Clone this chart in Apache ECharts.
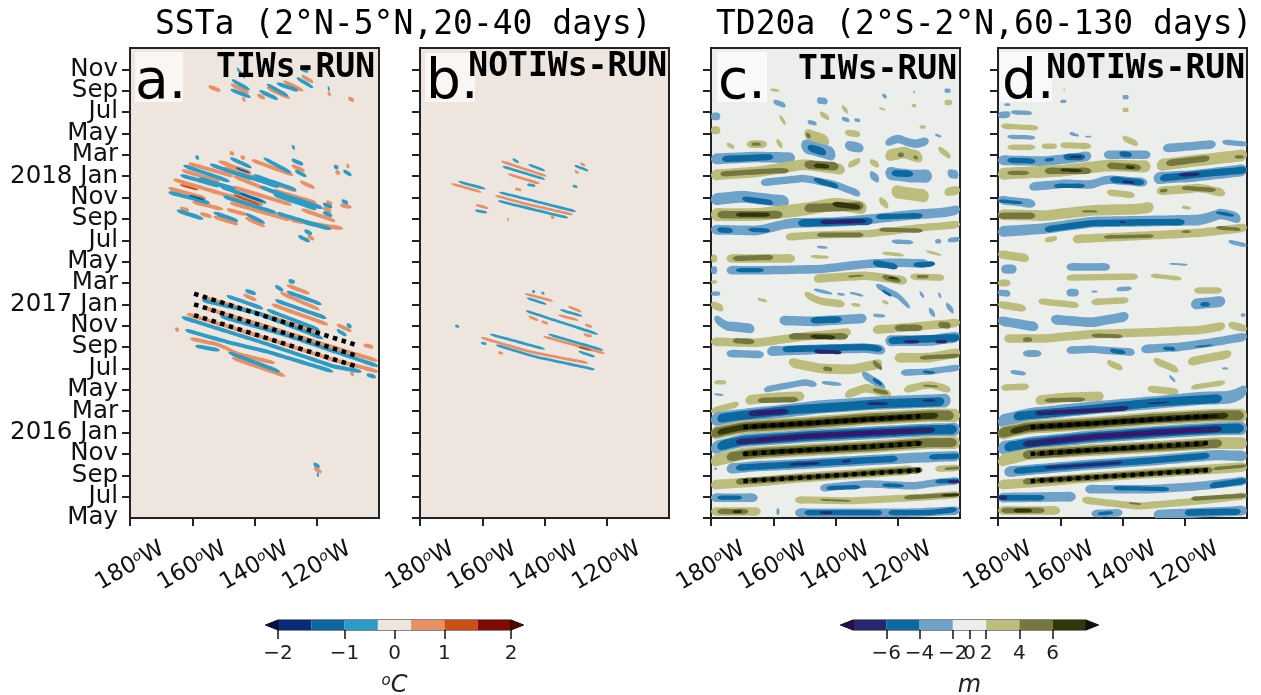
<!DOCTYPE html>
<html><head><meta charset="utf-8">
<style>html,body{margin:0;padding:0;background:#fff}#c{width:1261px;height:695px}</style>
<script src="https://cdn.jsdelivr.net/npm/echarts@6/dist/echarts.min.js"></script></head>
<body><div id="c"></div>
<script>
// months since May 2015 on the y axis; longitude (negative = west) on the x axis
const monthTicks=[0,2,4,6,8,10,12,14,16,18,20,22,24,26,28,30,32,34,36,38,40,42];
const monthLabels=['May','Jul','Sep','Nov','2016 Jan','Mar','May','Jul','Sep','Nov','2017 Jan','Mar','May','Jul','Sep','Nov','2018 Jan','Mar','May','Jul','Sep','Nov'];
const lonTicks=[-180,-160,-140,-120];
const lonLabels=['180','160','140','120'];

// Panel a: SSTa crests (+) and troughs (-)
const aOrange=[
[[-154.8,40.4],[-150.9,40]],[[-147.7,40.6],[-141.7,39.8]],[[-144,39.3],[-142.9,39.1]],[[-139.1,39.6],[-136.6,39.3]],[[-136.1,40.3],[-128.6,39.3]],[[-130.8,40.9],[-124.3,40]],[[-124.9,41.4],[-121.1,40.8]],[[-116.5,39.8],[-115.5,39.6]],[[-109.9,39.3],[-108,39.1]],
[[-161.3,33.2],[-146.8,32]],[[-146.8,32],[-132.9,30.4]],[[-163.4,32.55],[-151.1,31.5]],[[-166.1,31.7],[-151.1,30.4],[-137.2,29.3]],[[-167.7,30.9],[-155.4,29.9]],[[-147.9,29.5],[-128.6,27.9]],[[-128.6,27.9],[-111.5,27.1]],[[-153.2,28.2],[-145.2,27.5]],[[-143,28.1],[-136.6,27.3]],[[-163.9,29],[-161,28.8]],[[-157.5,28.5],[-153.7,28.2]],[[-149,28.9],[-142.5,28.4]],[[-140.9,33.5],[-127.5,32.1]],[[-151.6,33.4],[-140.9,32.3]],[[-137.2,31.7],[-126.5,30.6]],[[-134,30.7],[-120,29.5]],[[-128.1,33],[-123.8,32.5]],[[-125.4,31.5],[-120.6,30.9]],[[-123,26.4],[-120.8,26.1]],[[-118,29],[-115.2,28.7]],[[-117,29.6],[-115,29.4]],[[-112.5,29.3],[-108.8,29.1]],[[-110.5,33],[-109.5,32.9]],[[-114,32.4],[-112.5,32.3]],[[-144.5,33.8],[-143,33.7]],[[-148,34.2],[-146.5,34.1]],
[[-147,31],[-128,29.3]],[[-150,32.8],[-135,31.4]],[[-160,29.6],[-150,28.9]],[[-125,28.9],[-114,27.8]],
[[-156.9,20.7],[-135.6,18.9],[-118.9,17.3]],[[-156.5,19.7],[-134.7,17.8],[-100.4,14.7]],[[-161.8,19.1],[-138.2,17],[-114.7,14.8],[-100.2,13.7]],[[-160.7,16.8],[-151.1,16.2],[-145.8,15.4],[-133.4,14.5]],[[-147.3,15],[-130.1,13.3]],[[-143.6,20.9],[-139.3,20.4]],[[-134.5,20],[-116.3,18.1]],[[-131.8,21.1],[-119,19.5]],[[-129.7,21.8],[-122.2,21]],[[-113.6,18.1],[-108.8,17.5]],[[-105,16.2],[-101.8,16]],[[-109.3,13.6],[-108,13.4]],[[-120.9,4.65],[-118.4,4.3]],[[-165.5,17.7],[-164.3,17.6]]
];
const aBlue=[
[[-147.3,41],[-141.5,40.1]],[[-147.7,40.1],[-141.2,39.4]],[[-138.5,40],[-132.4,39.2]],[[-136.1,40.6],[-129.1,39.5]],[[-132.9,40.7],[-125.9,40]],[[-126.5,41.2],[-121.1,40.3]],[[-125.4,42.1],[-122.7,41.8]],[[-145.7,42.1],[-143,41.2]],[[-116.5,40.3],[-115.8,40.1]],
[[-162.9,33],[-147.9,31.5]],[[-147.9,33.7],[-140.9,32.8]],[[-163.9,32.1],[-151.1,31.05]],[[-151.1,31.05],[-136.1,29.5]],[[-167.7,30.5],[-154.3,29.5]],[[-150,30.1],[-132.9,28.55]],[[-132.9,28.55],[-116.3,27.1]],[[-165,28.8],[-156.4,28]],[[-153.2,28.6],[-145.2,27.8]],[[-143,28.5],[-136.6,27.6]],[[-140.4,32.1],[-126.5,30.7]],[[-154.3,33.1],[-140.4,31.7]],[[-137.2,33.7],[-128.1,32.3]],[[-138.2,31],[-123.3,29.5]],[[-134,30.3],[-120,28.9]],[[-124.3,27.7],[-115.2,27.05]],[[-128.1,33.55],[-124.3,33.1]],[[-127,32.5],[-123.3,32]],[[-118,29.4],[-115,29.1]],[[-118,28.6],[-115,28.3]],[[-112,29.7],[-109.9,29.5]],[[-111.5,32.5],[-108.8,32.1]],[[-126,26.4],[-122.2,25.9]],[[-124,26.9],[-121.5,26.6]],[[-114.5,32.9],[-113,32.8]],[[-128,34.8],[-127,34.6]],[[-159,33.8],[-157.8,33.7]],
[[-158,31.8],[-146,30.8]],[[-146,32.3],[-132,31]],[[-128,30],[-118,29]],
[[-157,20.4],[-139.3,19.2],[-117.9,16.8]],[[-151.1,18.9],[-129.7,17.1],[-100.2,14.2]],[[-163.4,18.8],[-138.2,16.5],[-114.7,14.2],[-105.6,13.7]],[[-162.3,17.6],[-149,16.5],[-136.2,15.6],[-114.7,13.7]],[[-159.1,16.1],[-151.1,15.7]],[[-148.4,15.5],[-131.8,13.7]],[[-149,20.8],[-137.2,19.6]],[[-143,21.3],[-139.5,21]],[[-133.4,20.4],[-116.8,18.7]],[[-136.1,19.5],[-119,17.6]],[[-129.7,21.2],[-118.4,20]],[[-133.4,21.7],[-130.7,21.3]],[[-129.1,22.2],[-127,22.1]],[[-113.6,17.6],[-110.4,17.1]],[[-110.4,18.1],[-108.8,17.9]],[[-104,13.4],[-101,13.2]],[[-121.1,5.05],[-119,4.8]],[[-120,4.1],[-119.3,4]]
];
const aDeepOrange=[[-146.8,30.3],[-138.2,29.3]];
const aDeepOrange2=[[-164,31.2],[-158,30.7]];
const aDeepBlue=[[-144.7,30.4],[-137.2,29.6]];
const aDeepBlue2=[[-146,32.8],[-141.5,32.3]];
const aDeepBlue3=[[-161,30.2],[-156,29.8]];

// Panel b
const bOrange=[
[[-170,31.3],[-160.2,30.5]],[[-154,33.4],[-139.3,32]],[[-151.8,32.2],[-141.5,31.3]],[[-128.5,33.2],[-126.9,33]],[[-130.3,32.5],[-129,32.3]],[[-155.9,30.2],[-147.3,29.5],[-130.8,28.4]],[[-162.1,29.3],[-158,29]],[[-149.5,30.8],[-147.4,30.7]],[[-146.3,21],[-137.2,20.3]],[[-135.6,19],[-129.1,18.5]],[[-132.4,19.8],[-128.1,19.3]],[[-145.2,18.9],[-142,18.5]],[[-141,18.4],[-138.8,18.2]],[[-127,18.1],[-124.7,17.9]],[[-127.5,17.2],[-124.7,17]],[[-140.4,17],[-120.6,15.4]],[[-160.4,16.9],[-145.2,15.6],[-125.9,14.5]],[[-154.9,15.5],[-153.3,15.4]],[[-152,28],[-151.4,27.9]],[[-138,28.2],[-136.8,28.1]]
];
const bBlue=[
[[-167.7,31.5],[-158.9,30.8]],[[-153.5,32.9],[-139.8,31.7]],[[-145.2,33.1],[-139.8,32.5]],[[-150.3,33.6],[-148.2,33.3]],[[-130.4,33],[-125.9,32.5]],[[-154.6,30.5],[-146.3,29.9],[-129.9,28.7]],[[-155,29.7],[-145.2,29],[-132.4,28.1]],[[-162.3,28.8],[-158.4,28.6]],[[-145.6,31.2],[-142.9,31.1]],[[-131,31.1],[-129.4,31]],[[-145.7,20.6],[-139.3,20]],[[-146,19.4],[-135.6,18.4],[-122.7,17.2]],[[-135,19.5],[-127.8,18.9]],[[-138.8,17.2],[-121.1,15.7]],[[-129.1,15.6],[-123.8,15.1]],[[-157.5,17.2],[-139.8,15.8]],[[-155.6,16.2],[-143.1,15.1],[-123.8,13.9]],[[-160.4,16.4],[-158.6,16.3]],[[-168.7,18],[-167.4,17.9]],[[-144,21.2],[-143,21.2]],[[-141,21.1],[-140,21]]
];
const bDeepOrange=[[-129.1,16],[-124.9,15.7]];

// Panels c and d: nested contour bands, [level, half thickness in months, [lon, t], ...]
const cBands=[
[-1,.5,[-180,33.6],[-165,33.8],[-153,33.7]],[-2,.3,[-176.5,33.6],[-160,33.8]],[1,.5,[-180,32.1],[-165,32.4],[-150,33.1],[-137,32.6]],[2,.25,[-177,32.2],[-160,32.5],[-155,32.5]],[2,.4,[-150,33.1],[-139,32.9]],[3,.2,[-147,33],[-142,32.9]],[1,.55,[-150,36],[-142,35.2]],[2,.2,[-149.5,35.9],[-148,35.7]],[-1,.65,[-151,34.9],[-140,34]],[-2,.35,[-149,34.7],[-143,34.2]],[1,.35,[-168.5,35],[-162,35]],[2,.15,[-167,35],[-164,35]],[1,.3,[-159,35.3],[-157,34.8]],[1,.2,[-175,35],[-172.5,34.7]],[1,.3,[-137,36.1],[-132,35.9]],[-1,.45,[-137,34.9],[-131,34.6]],
[-1,.35,[-164,31.4],[-150,31.8],[-140,31.2],[-132,30.3]],[-2,.25,[-147,31.7],[-139,31]],[-1,.55,[-180,29.8],[-170,30.1],[-155,29.6]],[-2,.25,[-170,29.9],[-160,29.5]],
[1,.6,[-180,28.4],[-165,28.4],[-150,28.9],[-140,29.4],[-130,29]],[2,.35,[-178,28.4],[-157,28.4]],[3,.2,[-172,28.4],[-161,28.4]],[2,.4,[-150,29],[-131,29.2]],[3,.25,[-141,29.4],[-132,29.1]],
[-1,.45,[-180,27],[-165,26.9],[-155,27.6],[-140,27.7],[-128,28],[-115,28.4],[-105,28.6],[-100,28.9]],[-2,.25,[-178,27],[-173,26.9]],[-2,.2,[-168,27],[-161,26.9]],[-2,.35,[-152,27.6],[-128,27.8]],[-2,.25,[-127,28.2],[-112,28.3]],[-3,.2,[-145,27.7],[-130,27.8]],[-4,.12,[-140,27.75],[-134,27.75]],
[1,.35,[-156,26.3],[-145,26.5],[-130,26.6],[-115,27.1],[-100,27.5]],[2,.22,[-146,26.5],[-131,26.5]],[2,.2,[-126,27],[-112,26.9]],[-1,.2,[-122,25.9],[-115,25.8]],[-1,.2,[-108,25.9],[-106,25.9]],[-1,.22,[-104,26],[-100,26.1]],[-1,.12,[-146,25.4],[-142.5,25.3]],
[1,.35,[-180,24.3],[-178,24.3]],[1,.4,[-175,24.3],[-153,24.3]],[2,.25,[-173,24.3],[-160,24.4]],[1,.15,[-148,24.5],[-142,24.4]],[1,.17,[-125,24.8],[-118,24.6]],[1,.12,[-111,25],[-106,24.6]],[-1,.4,[-175,23.2],[-160,23.2],[-145,23.3],[-130,23.8],[-120,23.9],[-110,23.8]],[-2,.2,[-172,23.2],[-163,23.2]],[-2,.3,[-128,23.9],[-120,23.5]],[-2,.25,[-115,23.7],[-108,23.8]],[-1,.35,[-180,23.2],[-178,23.2]],
[1,.12,[-161,40.1],[-158,40]],[-1,.25,[-160,39],[-156,38.6]],[1,.25,[-158,37.6],[-156,36.9]],[-1,.3,[-146,39.1],[-142.5,39]],[1,.25,[-145,37.9],[-142,37.4]],[-1,.2,[-149,37.1],[-146,36.9]],[-1,.2,[-138,37.4],[-135.5,37.2]],[-1,.15,[-134,37.3],[-132,37.2]],[1,.25,[-138,38.5],[-136,38]],[1,.35,[-180,36.3],[-177,36.3]],[-1,.35,[-180,37.6],[-177,37.6]],
[-1,.4,[-124,35.1],[-120,35.5],[-115,35],[-110,35.3]],[1,.55,[-124,33.9],[-118,34.2],[-112,33.7]],[2,.2,[-120,34],[-118,34]],[2,.15,[-115,33.8],[-113.5,33.7]],[-1,.6,[-124,32.3],[-115,32],[-109,32]],[-2,.3,[-122,32.3],[-115,32.2]],[1,.6,[-122,30.6],[-110,30.1]],[1,.3,[-136,33],[-132,33.5]],[1,.3,[-129,33.4],[-126,33]],[-1,.4,[-129,32.2],[-126,31.7]],[1,.35,[-126,29.8],[-123,29.2]],[-1,.4,[-104,32.3],[-100.5,32.1]],[1,.4,[-105,30.5],[-100,30.7]],[1,.3,[-107,34.6],[-103,33.8]],[-1,.2,[-105,40],[-103,40]],[1,.25,[-105,38.9],[-102.5,38.9]],[1,.15,[-115.5,38.6],[-114,38.6]],[-1,.18,[-125,39.6],[-123.5,39.4]],[1,.1,[-126,38.4],[-124,38.2]],[1,.15,[-113,36.6],[-111,36.6]],[-1,.12,[-108,35.9],[-106,35.7]],[-1,.12,[-115,39.9],[-114.5,39.9]],
[1,.4,[-147,22.4],[-130,22.7],[-120,22.3],[-117,22.2]],[2,.25,[-125,22.6],[-119,22.2]],[3,.1,[-123,22.5],[-120,22.4]],[2,.1,[-136,22.6],[-131,22.7]],[1,.3,[-116,22.6],[-105,22.5]],[2,.15,[-114,22.6],[-110,22.6]],
[-1,.3,[-127,21.8],[-120,20.8],[-116,19.7]],[-2,.15,[-125,21.3],[-122,20.8]],[-1,.15,[-147,21.4],[-141,21]],[-1,.12,[-139.5,21],[-137,20.9]],[-1,.12,[-135.5,21.1],[-131,20.8]],[1,.35,[-150,21],[-145,20.3],[-137,20]],[1,.15,[-125,20.3],[-123,20.1]],[1,.15,[-135,20],[-132,19.9]],[1,.15,[-165,20.5],[-162,20.3]],[-1,.3,[-104.5,20],[-102,19.3]],[-1,.3,[-110,19.5],[-108,19]],[-1,.2,[-113,21.1],[-111.5,20.7]],[-1,.2,[-107,21],[-106,20.7]],[1,.35,[-180,20],[-176,19.6]],[-1,.2,[-180,21],[-177,21]],[1,.15,[-180,22.1],[-178,22.1]],
[-1,.45,[-179,18.7],[-175,18],[-166,17.7]],[-1,.45,[-158,18.5],[-147,18.4],[-130,18.7]],[-2,.3,[-148,18.5],[-138,18.6]],[-1,.15,[-128,19],[-124,18.9]],
[1,.4,[-180,16.5],[-165,16.4],[-150,17],[-135,17.4]],[2,.3,[-155,17],[-136,17]],[3,.2,[-148,17],[-140,16.9]],[2,.25,[-173,16.6],[-166,16.5]],[1,.4,[-128,17.6],[-115,17.9],[-100,18.3]],[2,.3,[-121,17.8],[-112,17.8]],[2,.3,[-107,18.1],[-103,18]],
[-1,.35,[-175,15.4],[-163,15.3]],[-1,.45,[-162,15.6],[-145,15.8],[-130,15.9],[-124,15.7]],[-2,.3,[-157,15.8],[-130,16],[-125,15.8]],[-3,.18,[-147,15.6],[-138,15.5]],[-1,.5,[-124,16.6],[-110,16.6],[-100,17]],[-2,.35,[-123,16.6],[-100,16.9]],[-3,.15,[-118,16.5],[-113,16.5]],[-3,.15,[-108,16.5],[-104,16.5]],
[1,.45,[-121,15],[-110,15],[-100,15.5]],[2,.2,[-113,15],[-100,15.2]],[1,.45,[-155,14.6],[-145,14],[-135,13.9],[-125,14.5]],[2,.2,[-144,14],[-141,13.9]],[2,.25,[-128,14.6],[-125,14]],[-1,.3,[-119,13.6],[-110,13.7],[-100,14.1]],[-2,.12,[-112,13.7],[-108,13.6]],[-1,.4,[-131.5,13.5],[-124,12.2]],[-2,.2,[-128,13],[-125,12.5]],
[-1,.3,[-163,12],[-150,12.7],[-146,12.5]],[-1,.17,[-144.5,12.7],[-138,12.5]],[1,.35,[-118,12],[-110,12.5],[-103,12]],[2,.1,[-112,12.4],[-107,12.3]],[1,.4,[-137,11.5],[-130,12.2],[-122,11.5]],[2,.2,[-128,12],[-123,11.7]],[1,.45,[-169,11],[-160,11.3],[-150,11.4]],[2,.25,[-165,11],[-152,11.1]],[1,.3,[-180,10],[-171,10.7]],[1,.2,[-179,12.7],[-175,12.7]],[-1,.1,[-179,11.6],[-176,11.5]],
[-1,.62,[-180,9.2],[-170,9.6],[-160,9.9],[-145,10.4],[-130,10.7],[-115,10.9],[-103,11]],[-2,.42,[-178,9.3],[-170,9.6],[-155,10.1],[-140,10.4],[-125,10.7],[-105,10.9]],[-3,.25,[-168,9.75],[-155,10]],[-3,.13,[-130,10.7],[-123,10.7]],[-3,.1,[-112,11],[-108,11]],[-4,.13,[-165,9.85],[-157,10]],
[1,.62,[-180,7.9],[-170,8.5],[-150,8.85],[-130,9.3],[-110,9.6],[-100,9.6]],[2,.46,[-180,7.9],[-170,8.5],[-150,8.85],[-130,9.3],[-110,9.6],[-102,9.6]],[3,.28,[-178,8],[-170,8.5],[-150,8.85],[-130,9.25],[-107,9.6]],[4,.14,[-168,8.5],[-140,9.05],[-115,9.5]],
[-1,.6,[-180,6.5],[-170,7.25],[-150,7.65],[-130,7.95],[-110,8.25],[-100,8.3]],[-2,.44,[-178,6.7],[-170,7.25],[-150,7.65],[-130,7.95],[-110,8.25],[-101,8.3]],[-3,.27,[-172,7.1],[-150,7.65],[-130,7.95],[-108,8.25]],[-4,.15,[-165,7.35],[-140,7.8],[-115,8.2]],
[1,.58,[-180,5.3],[-170,6],[-150,6.35],[-130,6.65],[-110,7.05],[-100,7.05]],[2,.42,[-175,5.7],[-165,6.1],[-150,6.35],[-130,6.65],[-110,7.05],[-101,7.05]],[3,.25,[-170,6],[-150,6.35],[-130,6.65],[-112,7.05]],[4,.11,[-160,6.2],[-135,6.55]],
[-1,.48,[-175,4.6],[-165,4.85],[-150,5.05],[-130,5.4],[-110,5.7],[-100,5.8]],[-2,.3,[-172,4.7],[-160,4.9],[-130,5.4],[-120,5.55]],[-3,.12,[-155,5],[-145,5.15]],[-3,.12,[-138,5.3],[-135,5.35]],[-2,.25,[-110,5.7],[-100,5.8]],
[1,.45,[-180,3.1],[-165,3.4],[-150,3.8],[-130,4.2],[-115,4.5]],[2,.3,[-172,3.4],[-150,3.8],[-125,4.3],[-112,4.5]],[3,.15,[-168,3.5],[-150,3.8],[-125,4.3],[-113,4.5]],[1,.3,[-108,4.6],[-100,4.7]],[2,.12,[-105,4.6],[-100,4.7]],
[-1,.35,[-145,2.8],[-130,3.2],[-115,3],[-105,3.4],[-100,3.5]],[-2,.2,[-143,2.8],[-132,2.9]],[-2,.17,[-125,3.1],[-118,3]],[-2,.2,[-108,3.4],[-100,3.5]],[-3,.15,[-104,3.4],[-100,3.4]],[-1,.1,[-179,4.6],[-178,4.6]],
[-1,.4,[-180,1.9],[-165,1.9]],[-2,.2,[-178,1.9],[-170,1.9]],[1,.33,[-153,1.7],[-135,1.6],[-115,1.9],[-100,2.2]],[2,.2,[-118,1.9],[-100,2.2]],[3,.12,[-106,2.1],[-100,2.2]],[2,.1,[-145,1.7],[-135,1.6]],
[1,.4,[-180,.6],[-164,.6]],[2,.25,[-178,.6],[-168,.6]],[3,.15,[-173,.6],[-170,.6]],[-1,.4,[-153,.5],[-130,.5],[-115,.5],[-100,.7]],[-2,.25,[-150,.5],[-125,.5]],[-2,.25,[-123,.5],[-110,.5],[-101,.8]],[-3,.13,[-145,.5],[-141,.5]],[-1,.3,[-159,.6],[-158,.6]]
];
const dBands=[
[-1,.3,[-180,37.7],[-176,37.8]],[-1,.2,[-176,38],[-169,37.9]],[1,.25,[-179,36.7],[-167,36.5]],[-1,.2,[-177,35.7],[-168,35.6]],[1,.25,[-177,34.7],[-168,34.7]],[1,.25,[-166,34.8],[-161,34.8]],[1,.28,[-160,34.9],[-150,34.8]],[-1,.12,[-156,35.9],[-154,35.8]],[-1,.08,[-152,35.7],[-150,35.7]],[1,.3,[-140,35.6],[-135,35]],[-1,.4,[-146,34],[-131,34]],[-2,.25,[-141,34.1],[-137,34]],
[-1,.45,[-180,33.5],[-165,33.4],[-150,33.9]],[-2,.25,[-177,33.5],[-168,33.4]],[-2,.15,[-165,33.5],[-162,33.6]],[-2,.3,[-159,33.8],[-152,33.8]],[-3,.1,[-157,33.8],[-153,33.8]],[-1,.4,[-127,34.6],[-110,35]],[-1,.25,[-108,35.2],[-100,35]],
[1,.55,[-129,33],[-115,33.5],[-100,34]],[2,.3,[-126,33.2],[-112,33.7]],[2,.15,[-104,33.8],[-101,33.8]],[1,.55,[-180,32.2],[-160,32.5],[-145,33],[-131,32.9]],[2,.3,[-165,32.5],[-150,32.5]],[2,.3,[-145,33],[-134,32.8]],[3,.15,[-160,32.6],[-153,32.5]],[3,.15,[-139,32.9],[-136,32.8]],[2,.2,[-177,32.3],[-170,32.3]],
[-1,.55,[-130,31.8],[-118,32],[-100,32.6]],[-2,.33,[-128,31.8],[-115,32.2],[-100,32.6]],[-3,.15,[-122,32.1],[-115,32.2]],[-1,.4,[-170,31],[-158,31.3],[-150,31.2],[-145,31.7],[-132,31.4]],[-2,.2,[-162,31.1],[-152,31.1]],[-2,.3,[-144,31.7],[-133,31.4]],[-3,.12,[-140,31.5],[-136,31.4]],[1,.3,[-145,30.5],[-136,30.2]],[1,.4,[-129,30.6],[-115,30.9],[-107,30.4]],[2,.2,[-121,30.9],[-110,30.7]],[2,.15,[-128,30.6],[-125.5,30.7]],
[-1,.4,[-180,29.8],[-168,29.4]],[-2,.15,[-180,29.7],[-172,29.5]],[1,.5,[-180,28.4],[-165,28.3],[-150,28.8],[-136,28.9],[-130,29.1]],[2,.3,[-180,28.3],[-168,28.3]],[2,.1,[-153,28.7],[-148,28.7]],[1,.15,[-121,29.1],[-118,29]],
[-1,.5,[-180,26.8],[-165,27.1],[-150,27.7],[-130,27.8],[-115,27.9],[-108,28.5],[-102,28]],[-2,.3,[-165,27],[-150,27.6],[-130,27.7],[-120,27.7]],[-2,.15,[-110,28.6],[-104,28.3]],[-3,.07,[-141,27.7],[-139,27.7]],
[1,.25,[-165,26],[-161,26.2]],[1,.4,[-156,26.1],[-135,26.4],[-115,26.7],[-100,27.2]],[2,.17,[-146,26.3],[-130,26.4]],[2,.12,[-121,26.8],[-118,26.8]],[2,.17,[-110,27.2],[-102,27]],[-1,.2,[-106,25.9],[-100,25.5]],[1,.4,[-180,24.7],[-170,24.3]],[-1,.4,[-179,23.3],[-174,23.3]],[-1,.35,[-158,23.5],[-144,23.5]],[-1,.1,[-125,23.8],[-119,23.7]],[1,.3,[-158,22.5],[-135,22.6]],[1,.2,[-131,22.7],[-121,22.4]],
[-1,.2,[-140,39.4],[-138,39.4]],[1,.2,[-140,38.2],[-138,38.2]],[-1,.15,[-160,39],[-158,39]],[1,.1,[-159,40.1],[-158.5,40.1]],[-1,.12,[-178,38.7],[-176,38.7]],[-1,.15,[-157,36],[-155,35.9]],
[1,.3,[-180,22],[-176,22]],[-1,.3,[-180,21.1],[-176,21]],[-1,.35,[-158,21.1],[-154,21.1]],[-1,.2,[-142,21.4],[-137,21.5]],[-1,.1,[-150,21.2],[-148,21.2]],[1,.3,[-117,21.3],[-108,21.3]],[1,.3,[-150,20.2],[-138,20.4]],[1,.3,[-167,20.3],[-154,19.9]],[1,.35,[-180,20],[-171,19.6]],[-1,.5,[-118,20],[-107,20.3]],[-2,.2,[-115,20],[-112,20]],
[-1,.45,[-180,18.5],[-170,18],[-167,17.9]],[-1,.45,[-163,18.6],[-150,18.3],[-138,18.9]],[-1,.15,[-102,19],[-100.5,19]],[1,.4,[-178,16.8],[-165,16.8],[-150,17.2],[-130,17.4],[-115,17.6],[-107,18]],[1,.35,[-106,18.1],[-100,17.7]],[2,.18,[-150,17.1],[-140,17]],[2,.2,[-172,16.7],[-169,16.7]],[-1,.35,[-158,15.7],[-150,15.8],[-136,15.5]],[-2,.2,[-144,15.7],[-139,15.5]],[-1,.4,[-134,15.8],[-122,16],[-112,16.4],[-100,17]],[-2,.18,[-127,15.9],[-123,15.8]],[-2,.07,[-117,16],[-111,16.2]],[-1,.3,[-172,15.4],[-166,15.4]],[1,.4,[-119,14.6],[-105,15.4]],[1,.35,[-130,14.8],[-122,13.8]],[1,.3,[-145,14.6],[-140,14]],[-1,.2,[-176,13.7],[-171,13.5]],[-1,.1,[-108,14],[-106,14]],[-1,.18,[-125,13.3],[-123,12.8]],[1,.3,[-179,12.2],[-170,12.3]],[1,.32,[-132,12.1],[-122,11.8]],[1,.25,[-118,12.2],[-107,12.7]],
[1,.45,[-168,11],[-158,11.3],[-146,11.4]],[2,.2,[-165,11],[-152,11.1]],
[-1,.6,[-180,9],[-170,9.7],[-150,10.3],[-130,10.8],[-115,11.2],[-105,11.3],[-100,12]],[-2,.4,[-175,9.5],[-150,10.2],[-130,10.8],[-108,11.2]],[-3,.22,[-168,9.8],[-150,10.05],[-138,10.3]],[-3,.07,[-132,10.7],[-125,10.85]],[-4,.1,[-163,9.95],[-148,10.15]],
[1,.62,[-180,7.9],[-170,8.5],[-150,8.85],[-130,9.3],[-110,9.6],[-100,9.6]],[2,.46,[-180,7.9],[-170,8.5],[-150,8.85],[-130,9.3],[-110,9.6],[-101,9.6]],[3,.28,[-176,8.1],[-170,8.5],[-150,8.85],[-130,9.25],[-106,9.6]],[4,.14,[-168,8.5],[-140,9.05],[-109,9.55]],
[-1,.6,[-180,6.5],[-170,7],[-150,7.6],[-130,8],[-110,8.35],[-100,8.4]],[-2,.44,[-178,6.6],[-170,7],[-150,7.6],[-130,8],[-110,8.35],[-101,8.4]],[-3,.28,[-172,6.9],[-150,7.6],[-130,8],[-108,8.35]],[-4,.15,[-165,7.2],[-140,7.8],[-115,8.3]],
[1,.55,[-180,5.3],[-170,6],[-150,6.35],[-130,6.65],[-110,7],[-100,7]],[2,.4,[-172,5.9],[-150,6.35],[-130,6.65],[-108,7]],[3,.23,[-168,6],[-150,6.35],[-130,6.65],[-113,6.95]],[4,.1,[-160,6.2],[-135,6.55]],
[-1,.48,[-178,4.3],[-170,4.5],[-150,5],[-130,5.4],[-110,5.9],[-100,5.8]],[-2,.3,[-175,4.4],[-150,5],[-130,5.4],[-112,5.85]],[-3,.13,[-165,4.7],[-140,5.2]],
[1,.45,[-180,3.1],[-165,3.4],[-150,3.8],[-130,4.2],[-115,4.5],[-100,4.8]],[2,.3,[-172,3.4],[-150,3.8],[-125,4.3],[-111,4.5]],[3,.15,[-168,3.5],[-150,3.8],[-125,4.3],[-113,4.5]],[2,.15,[-111,4.6],[-100,4.9]],
[-1,.4,[-152,2.7],[-130,2.7],[-115,3],[-100,3.5]],[-2,.2,[-143,2.8],[-125,2.7]],[-2,.28,[-112,3],[-100,3.5]],[-1,.45,[-180,1.9],[-155,2]],[-2,.25,[-180,1.9],[-165,1.9]],[-3,.2,[-180,1.9],[-177,1.9]],
[1,.33,[-153,1.7],[-135,1.1],[-115,1.6],[-100,2.1]],[2,.2,[-118,1.8],[-100,2.1]],[2,.1,[-138,1.4],[-134,1.3]],[1,.4,[-180,.7],[-160,.7]],[2,.25,[-179,.7],[-165,.7]],[3,.18,[-175,.7],[-169,.7]],[-1,.35,[-150,.4],[-140,.5]],[-2,.15,[-148,.4],[-143,.5]],[-1,.45,[-130,.3],[-115,.5],[-100,.7]],[-2,.3,[-120,.5],[-102,.6]]
];

// Dotted reference lines (lon, month)
const aDots=[[[-159.4,21],[-107.4,16.2]],[[-159.4,20],[-107.4,15.2]],[[-159.4,19],[-107.4,14.2]]];
const cDots=[[[-169.6,8.5],[-111.8,9.55]],[[-169.6,6],[-111.8,7]],[[-169.6,3.45],[-111.8,4.5]]];
const dDots=[[[-169.5,8.5],[-111.7,9.55]],[[-169.5,6],[-111.7,7.05]],[[-169.5,3.45],[-111.7,4.5]]];

// Colour bars
const sstColors=['#0A2A7A','#0C659E','#2A9CC6','#EEE6DE','#E88F66','#CB4F12','#7F0A00'];
const sstTickPos=[0,2,3.5,5,7];
const sstTickText=['\u22122','\u22121','0','1','2'];
const tdColors=['#27276F','#0B68A0','#6FA2C8','#ECEEEC','#BCBC7C','#75773F','#33350A'];
const tdTickPos=[1,2,3,3.5,4,5,6];
const tdTickText=['\u22126','\u22124','\u22122','0','2','4','6'];

const bandColor={'-4':'#3B1470','-3':'#27276F','-2':'#0B68A0','-1':'#6FA2C8','1':'#BCBC7C','2':'#75773F','3':'#33350A','4':'#141404'};
const sans='"DejaVu Sans"', mono='"DejaVu Sans Mono"';
const frame='#222';

const panels=[
 {left:130,bg:'#EEE6DE',labels:true},
 {left:420,bg:'#EEE6DE'},
 {left:711,bg:'#ECEEEC'},
 {left:998,bg:'#ECEEEC'}
];
// Outline of a contour ribbon: follows the read points, at constant half thickness, with rounded ends
function ribbon(api,pts,h){
  const len=Math.abs(pts[pts.length-1][0]-pts[0][0]);
  const e=Math.min(len*.22,1.5);
  const at=x=>{
    for(let i=0;i<pts.length-1;i++){
      if(x<=pts[i+1][0]){const f=(x-pts[i][0])/(pts[i+1][0]-pts[i][0]);return pts[i][1]+f*(pts[i+1][1]-pts[i][1]);}
    }
    return pts[pts.length-1][1];
  };
  const x0=pts[0][0],x1=pts[pts.length-1][0];
  const xs=[x0+e*.3,x0+e];
  const inner=x1-e-(x0+e), steps=Math.max(1,Math.round(inner/2.5));
  for(let s=1;s<steps;s++) xs.push(x0+e+inner*s/steps);
  xs.push(x1-e,x1-e*.3);
  const scale=xs.map((x,k)=>(k===0||k===xs.length-1)?.65:1);
  const up=xs.map((x,k)=>api.coord([x,at(x)+h*scale[k]]));
  const lo=xs.map((x,k)=>api.coord([x,at(x)-h*scale[k]])).reverse();
  return [api.coord(pts[0]),...up,api.coord(pts[pts.length-1]),...lo];
}
function stripeSeries(i,list,color,h){
  return {type:'custom',xAxisIndex:i,yAxisIndex:i,clip:true,silent:true,animation:false,z:3,
    data:list.map((_,k)=>[k]),
    renderItem:(p,api)=>({type:'polygon',shape:{points:ribbon(api,list[api.value(0)],h),smooth:.25},style:{fill:color}})};
}
function bandSeries(i,list){
  const sorted=[...list].sort((a,b)=>Math.abs(a[0])-Math.abs(b[0]));
  return {type:'custom',xAxisIndex:i,yAxisIndex:i,clip:true,silent:true,animation:false,z:3,
    data:sorted.map((_,k)=>[k]),
    renderItem:(p,api)=>{const b=sorted[api.value(0)];
      return {type:'polygon',shape:{points:ribbon(api,b.slice(2),b[1]),smooth:.3},style:{fill:bandColor[b[0]]}};}};
}
function dotSeries(i,list){
  return list.map(d=>({type:'line',xAxisIndex:i,yAxisIndex:i,data:d,showSymbol:false,silent:true,animation:false,z:5,
    lineStyle:{color:'#000',width:4.5,type:[4.5,4.6],cap:'butt'}}));
}
function colorbarSeries(i,colors,leftTip,rightTip){
  return [
   {type:'custom',xAxisIndex:i,yAxisIndex:i,silent:true,animation:false,z:3,clip:false,
    data:colors.map((_,k)=>[k]),
    renderItem:(p,api)=>{const k=api.value(0),a=api.coord([k,1]),b=api.coord([k+1,0]);
      return {type:'rect',shape:{x:a[0],y:a[1],width:b[0]-a[0],height:b[1]-a[1]},style:{fill:colors[k]}};}},
   {type:'custom',xAxisIndex:i,yAxisIndex:i,silent:true,animation:false,z:3,clip:false,
    data:[[0],[1]],
    renderItem:(p,api)=>{const k=api.value(0),e=k?colors.length:0,t=k?colors.length+.38:-.38;
      return {type:'polygon',shape:{points:[api.coord([e,1]),api.coord([t,.5]),api.coord([e,0])]},
        style:{fill:k?rightTip:leftTip,stroke:'#111',lineWidth:1}};}}
  ];
}

const grids=panels.map(p=>({left:p.left,top:48,width:249,height:470,show:true,backgroundColor:p.bg,borderColor:frame,borderWidth:2,outerBoundsMode:'none'}));
grids.push({left:278,top:620,width:233,height:10,show:true,borderColor:'#111',borderWidth:1,backgroundColor:'transparent',outerBoundsMode:'none'});
grids.push({left:853,top:620,width:233,height:10,show:true,borderColor:'#111',borderWidth:1,backgroundColor:'transparent',outerBoundsMode:'none'});

const xAxes=panels.map((p,i)=>({type:'value',gridIndex:i,min:-180,max:-100,splitLine:{show:false},
  axisLine:{show:false},
  axisTick:{show:true,length:8,customValues:lonTicks,lineStyle:{color:frame,width:2}},
  axisLabel:{customValues:lonTicks,rotate:30,align:'center',verticalAlign:'middle',margin:48,showMinLabel:true,showMaxLabel:true,
    formatter:v=>'{a|'+lonLabels[lonTicks.indexOf(v)]+'}{s|o}{a|W}',
    rich:{a:{fontFamily:sans,fontSize:23,color:'#111'},s:{fontFamily:sans,fontStyle:'italic',fontSize:14,color:'#111',verticalAlign:'top'}}}}));
// The outer two label positions are dropped by showMinLabel/showMaxLabel:false, so that the
// library's end-label overlap check cannot hide the tightly spaced real labels.
const labelPositions=[0,...monthTicks,44];
const yAxes=panels.map((p,i)=>({type:'value',gridIndex:i,min:0,max:44,splitLine:{show:false},
  axisLine:{show:false},
  axisTick:{show:true,length:8,customValues:monthTicks,lineStyle:{color:frame,width:2}},
  axisLabel:{show:!!p.labels,customValues:labelPositions,margin:12,fontFamily:sans,fontSize:24.5,color:'#111',showMinLabel:false,showMaxLabel:false,hideOverlap:false,
    formatter:v=>monthLabels[monthTicks.indexOf(v)]||''}}));
function barAxis(i,pos,text,name){
  return {type:'value',gridIndex:i,min:0,max:7,splitLine:{show:false},axisLine:{show:false},
   axisTick:{show:true,length:9,customValues:pos,lineStyle:{color:'#111',width:1.5}},
   axisLabel:{customValues:pos,margin:14,fontFamily:sans,fontSize:20,color:'#222',hideOverlap:false,showMinLabel:true,showMaxLabel:true,
     formatter:v=>text[pos.indexOf(v)]},
   name:name,nameLocation:'middle',nameGap:44,
   nameTextStyle:{rich:{s:{fontFamily:sans,fontStyle:'italic',fontSize:15,color:'#222',verticalAlign:'top'},c:{fontFamily:sans,fontStyle:'italic',fontSize:24,color:'#222'}}}};
}
xAxes.push(barAxis(4,sstTickPos,sstTickText,'{s|o}{c|C}'));
xAxes.push(barAxis(5,tdTickPos,tdTickText,'{c|m}'));
[4,5].forEach(i=>yAxes.push({type:'value',gridIndex:i,min:0,max:1,show:false}));

const deepOrangeColor='#CB4F12',deepBlueColor='#0C659E',orangeColor='#E88F66',blueColor='#2A9CC6';
const series=[
 stripeSeries(0,aOrange,orangeColor,.19),stripeSeries(0,aBlue,blueColor,.19),
 stripeSeries(0,[aDeepOrange,aDeepOrange2],deepOrangeColor,.11),stripeSeries(0,[aDeepBlue,aDeepBlue2,aDeepBlue3],deepBlueColor,.11),
 ...dotSeries(0,aDots),
 stripeSeries(1,bOrange,orangeColor,.13),stripeSeries(1,bBlue,blueColor,.13),stripeSeries(1,[bDeepOrange],deepOrangeColor,.09),
 bandSeries(2,cBands),...dotSeries(2,cDots),
 bandSeries(3,dBands),...dotSeries(3,dDots),
 ...colorbarSeries(4,sstColors,'#00104F','#5A0500'),
 ...colorbarSeries(5,tdColors,'#2A0A55','#141404')
];

function text(x,y,s,font,align){
  return {type:'text',x:x,y:y,z:50,silent:true,style:{text:s,font:font,fill:'#000',textAlign:align||'left',textVerticalAlign:'middle'}};
}
function box(x,y,w,h){return {type:'rect',z:40,silent:true,shape:{x,y,width:w,height:h},style:{fill:'rgba(255,255,255,.65)'}};}
const graphics=[
 text(155,25,'SSTa (2\u00B0N-5\u00B0N,20-40 days)','33px '+mono),
 text(716,25,'TD20a (2\u00B0S-2\u00B0N,60-130 days)','33px '+mono),
 text(375,68,'TIWs-RUN','bold 33px '+mono,'right'),
 text(667,67,'NOTIWs-RUN','bold 33px '+mono,'right'),
 text(957,70,'TIWs-RUN','bold 33px '+mono,'right'),
 text(1245,69,'NOTIWs-RUN','bold 33px '+mono,'right'),
 box(135,52,48,50),box(425,53,50,49),box(717,52,50,50),box(1000,52,52,50),
 text(135,84,'a.','55px '+sans),text(426,84,'b.','55px '+sans),text(718,84,'c.','55px '+sans),text(1002,84,'d.','55px '+sans)
];

const chart=echarts.init(document.getElementById('c'),null,{renderer:'canvas'});
chart.setOption({animation:false,backgroundColor:'#fff',grid:grids,xAxis:xAxes,yAxis:yAxes,series:series,graphic:{elements:graphics}});
</script></body></html>
